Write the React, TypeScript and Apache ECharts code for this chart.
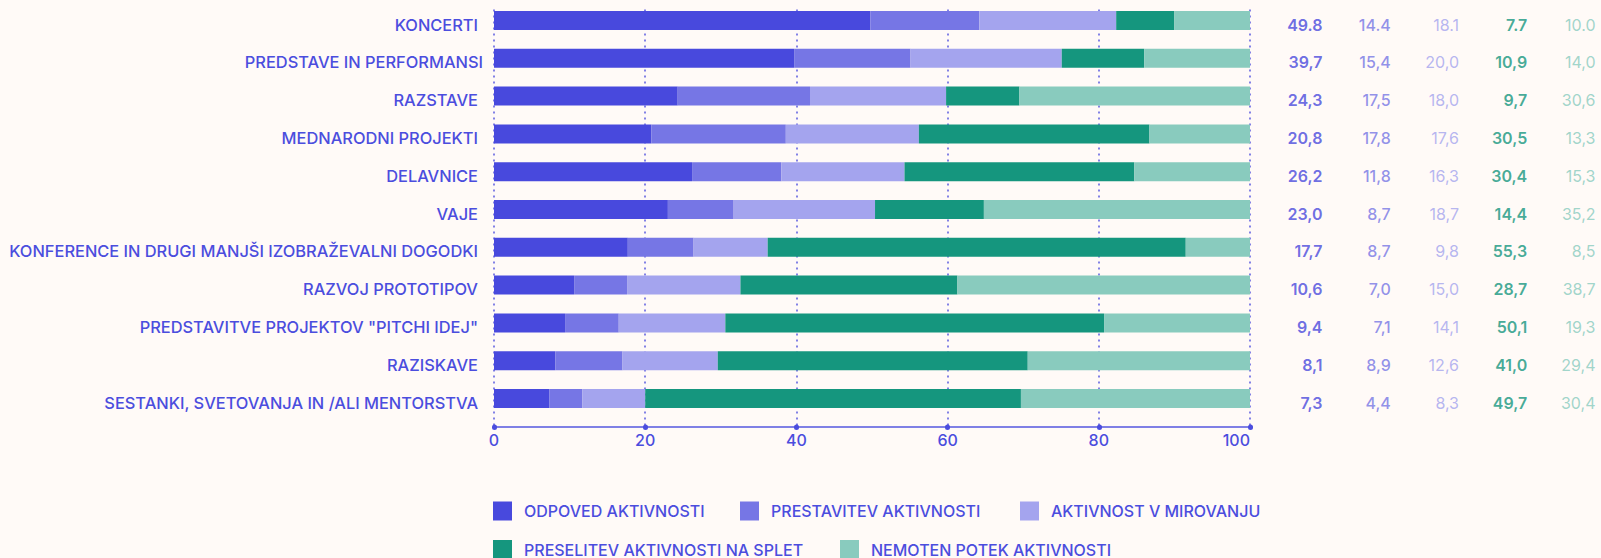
import React, { useEffect, useRef } from "react";
import * as echarts from "echarts";

const categories = [
  "KONCERTI",
  "PREDSTAVE IN PERFORMANSI",
  "RAZSTAVE",
  "MEDNARODNI PROJEKTI",
  "DELAVNICE",
  "VAJE",
  "KONFERENCE IN DRUGI MANJŠI IZOBRAŽEVALNI DOGODKI",
  "RAZVOJ PROTOTIPOV",
  'PREDSTAVITVE PROJEKTOV "PITCHI IDEJ"',
  "RAZISKAVE",
  "SESTANKI, SVETOVANJA IN /ALI MENTORSTVA",
];

const seriesNames = [
  "ODPOVED AKTIVNOSTI",
  "PRESTAVITEV AKTIVNOSTI",
  "AKTIVNOST V MIROVANJU",
  "PRESELITEV AKTIVNOSTI NA SPLET",
  "NEMOTEN POTEK AKTIVNOSTI",
];

const odpoved = [49.8, 39.7, 24.3, 20.8, 26.2, 23.0, 17.7, 10.6, 9.4, 8.1, 7.3];
const prestavitev = [14.4, 15.4, 17.5, 17.8, 11.8, 8.7, 8.7, 7.0, 7.1, 8.9, 4.4];
const mirovanje = [18.1, 20.0, 18.0, 17.6, 16.3, 18.7, 9.8, 15.0, 14.1, 12.6, 8.3];
const splet = [7.7, 10.9, 9.7, 30.5, 30.4, 14.4, 55.3, 28.7, 50.1, 41.0, 49.7];
const nemoten = [10.0, 14.0, 30.6, 13.3, 15.3, 35.2, 8.5, 38.7, 19.3, 29.4, 30.4];

const xTicks = [0, 20, 40, 60, 80, 100];

const colors = ["#4849DD", "#7676E5", "#A4A4EE", "#15967E", "#89CBBE"];
const numberWeights = [600, 500, 400, 600, 400];
const textColor = "#4B4DDE";
const bg = "#FFFAF7";
const font = "Inter, Roboto, sans-serif";

const allValues = [odpoved, prestavitev, mirovanje, splet, nemoten];

function fmt(v: number, row: number) {
  const s = v.toFixed(1);
  return row === 0 ? s : s.replace(".", ",");
}

export default function App() {
  const ref = useRef<HTMLDivElement>(null);
  useEffect(() => {
    document.body.style.margin = "0";
    document.body.style.background = bg;
    if (!ref.current) return;
    const chart = echarts.init(ref.current, undefined, { renderer: "svg" });

    const gridTop = 1.6;
    const band = 37.8;
    const barsHeight = band * categories.length;

    const barSeries = allValues.map((vals, i) => ({
      name: seriesNames[i],
      type: "bar",
      stack: "total",
      xAxisIndex: 1,
      yAxisIndex: 1,
      barWidth: 19,
      itemStyle: { color: colors[i] },
      data: vals,
      z: 3,
    }));

    const numSeries = allValues.map((vals, i) => ({
      name: "num" + i,
      type: "scatter",
      xAxisIndex: 2,
      yAxisIndex: 2,
      symbolSize: 1,
      itemStyle: { color: "rgba(0,0,0,0)" },
      silent: true,
      data: vals.map((v, r) => [i + 1, categories[r], v]),
      label: {
        show: true,
        position: "left",
        distance: 0,
        offset: [0, 4],
        formatter: (p: any) => fmt(p.data[2], p.dataIndex),
        color: colors[i],
        fontFamily: font,
        fontSize: 16,
        fontWeight: numberWeights[i],
      },
    }));

    const legendPos = [
      [493, 501.5],
      [740, 501.5],
      [1020, 501.5],
      [493, 540],
      [840, 540],
    ];

    const option: any = {
      animation: false,
      backgroundColor: bg,
      textStyle: { fontFamily: font },
      legend: seriesNames.map((n, i) => ({
        data: [n],
        left: legendPos[i][0],
        top: legendPos[i][1],
        padding: 0,
        itemWidth: 19,
        itemHeight: 19,
        icon: "rect",
        selectedMode: false,
        textStyle: {
          color: textColor,
          fontFamily: font,
          fontSize: 16,
          fontWeight: 500,
          padding: [0, 0, 0, 7],
        },
      })),
      grid: [
        { left: 494, width: 756, top: gridTop + 8, height: 427 - gridTop - 8 },
        { left: 494, width: 756, top: gridTop, height: barsHeight },
        { left: 1254.75, width: 341.25, top: gridTop, height: barsHeight },
      ],
      xAxis: [
        {
          gridIndex: 0,
          type: "value",
          min: 0,
          max: 100,
          interval: 20,
          axisLine: { show: true, lineStyle: { color: "#5557DF", width: 1.5 } },
          axisTick: {
            show: true,
            length: 0.5,
            lineStyle: { color: "#4B4DDE", width: 5, cap: "round" },
          },
          axisLabel: {
            color: textColor,
            fontFamily: font,
            fontSize: 16,
            fontWeight: 500,
            margin: 5,
            alignMinLabel: "center",
            alignMaxLabel: "right",
            formatter: (v: number) => (xTicks.includes(v) ? String(v) : ""),
          },
          splitLine: {
            show: true,
            lineStyle: { color: "#5A5AE0", width: 1.5, type: [2, 4] },
          },
        },
        {
          gridIndex: 1,
          type: "value",
          min: 0,
          max: 100,
          show: false,
        },
        {
          gridIndex: 2,
          type: "value",
          min: 0,
          max: 5,
          show: false,
        },
      ],
      yAxis: [
        {
          gridIndex: 0,
          type: "value",
          show: false,
          min: 0,
          max: 1,
        },
        {
          gridIndex: 1,
          type: "category",
          inverse: true,
          data: categories,
          axisLine: { show: false },
          axisTick: { show: false },
          splitLine: { show: false },
          axisLabel: {
            margin: 11,
            color: textColor,
            fontFamily: font,
            fontSize: 16.4,
            fontWeight: 500,
            formatter: (v: string) =>
              v === "PREDSTAVE IN PERFORMANSI" ? `{b|${v}}` : `{a|${v}}`,
            rich: {
              a: { padding: [8, 5, 0, 0], color: textColor, fontFamily: font, fontSize: 16.4, fontWeight: 500 },
              b: { padding: [8, 0, 0, 0], color: textColor, fontFamily: font, fontSize: 16.4, fontWeight: 500 },
            },
          },
        },
        {
          gridIndex: 2,
          type: "category",
          inverse: true,
          data: categories,
          show: false,
        },
      ],
      series: [...barSeries, ...numSeries],
    };

    chart.setOption(option);
    return () => chart.dispose();
  }, []);

  return <div ref={ref} style={{ width: 1601, height: 558 }} />;
}
